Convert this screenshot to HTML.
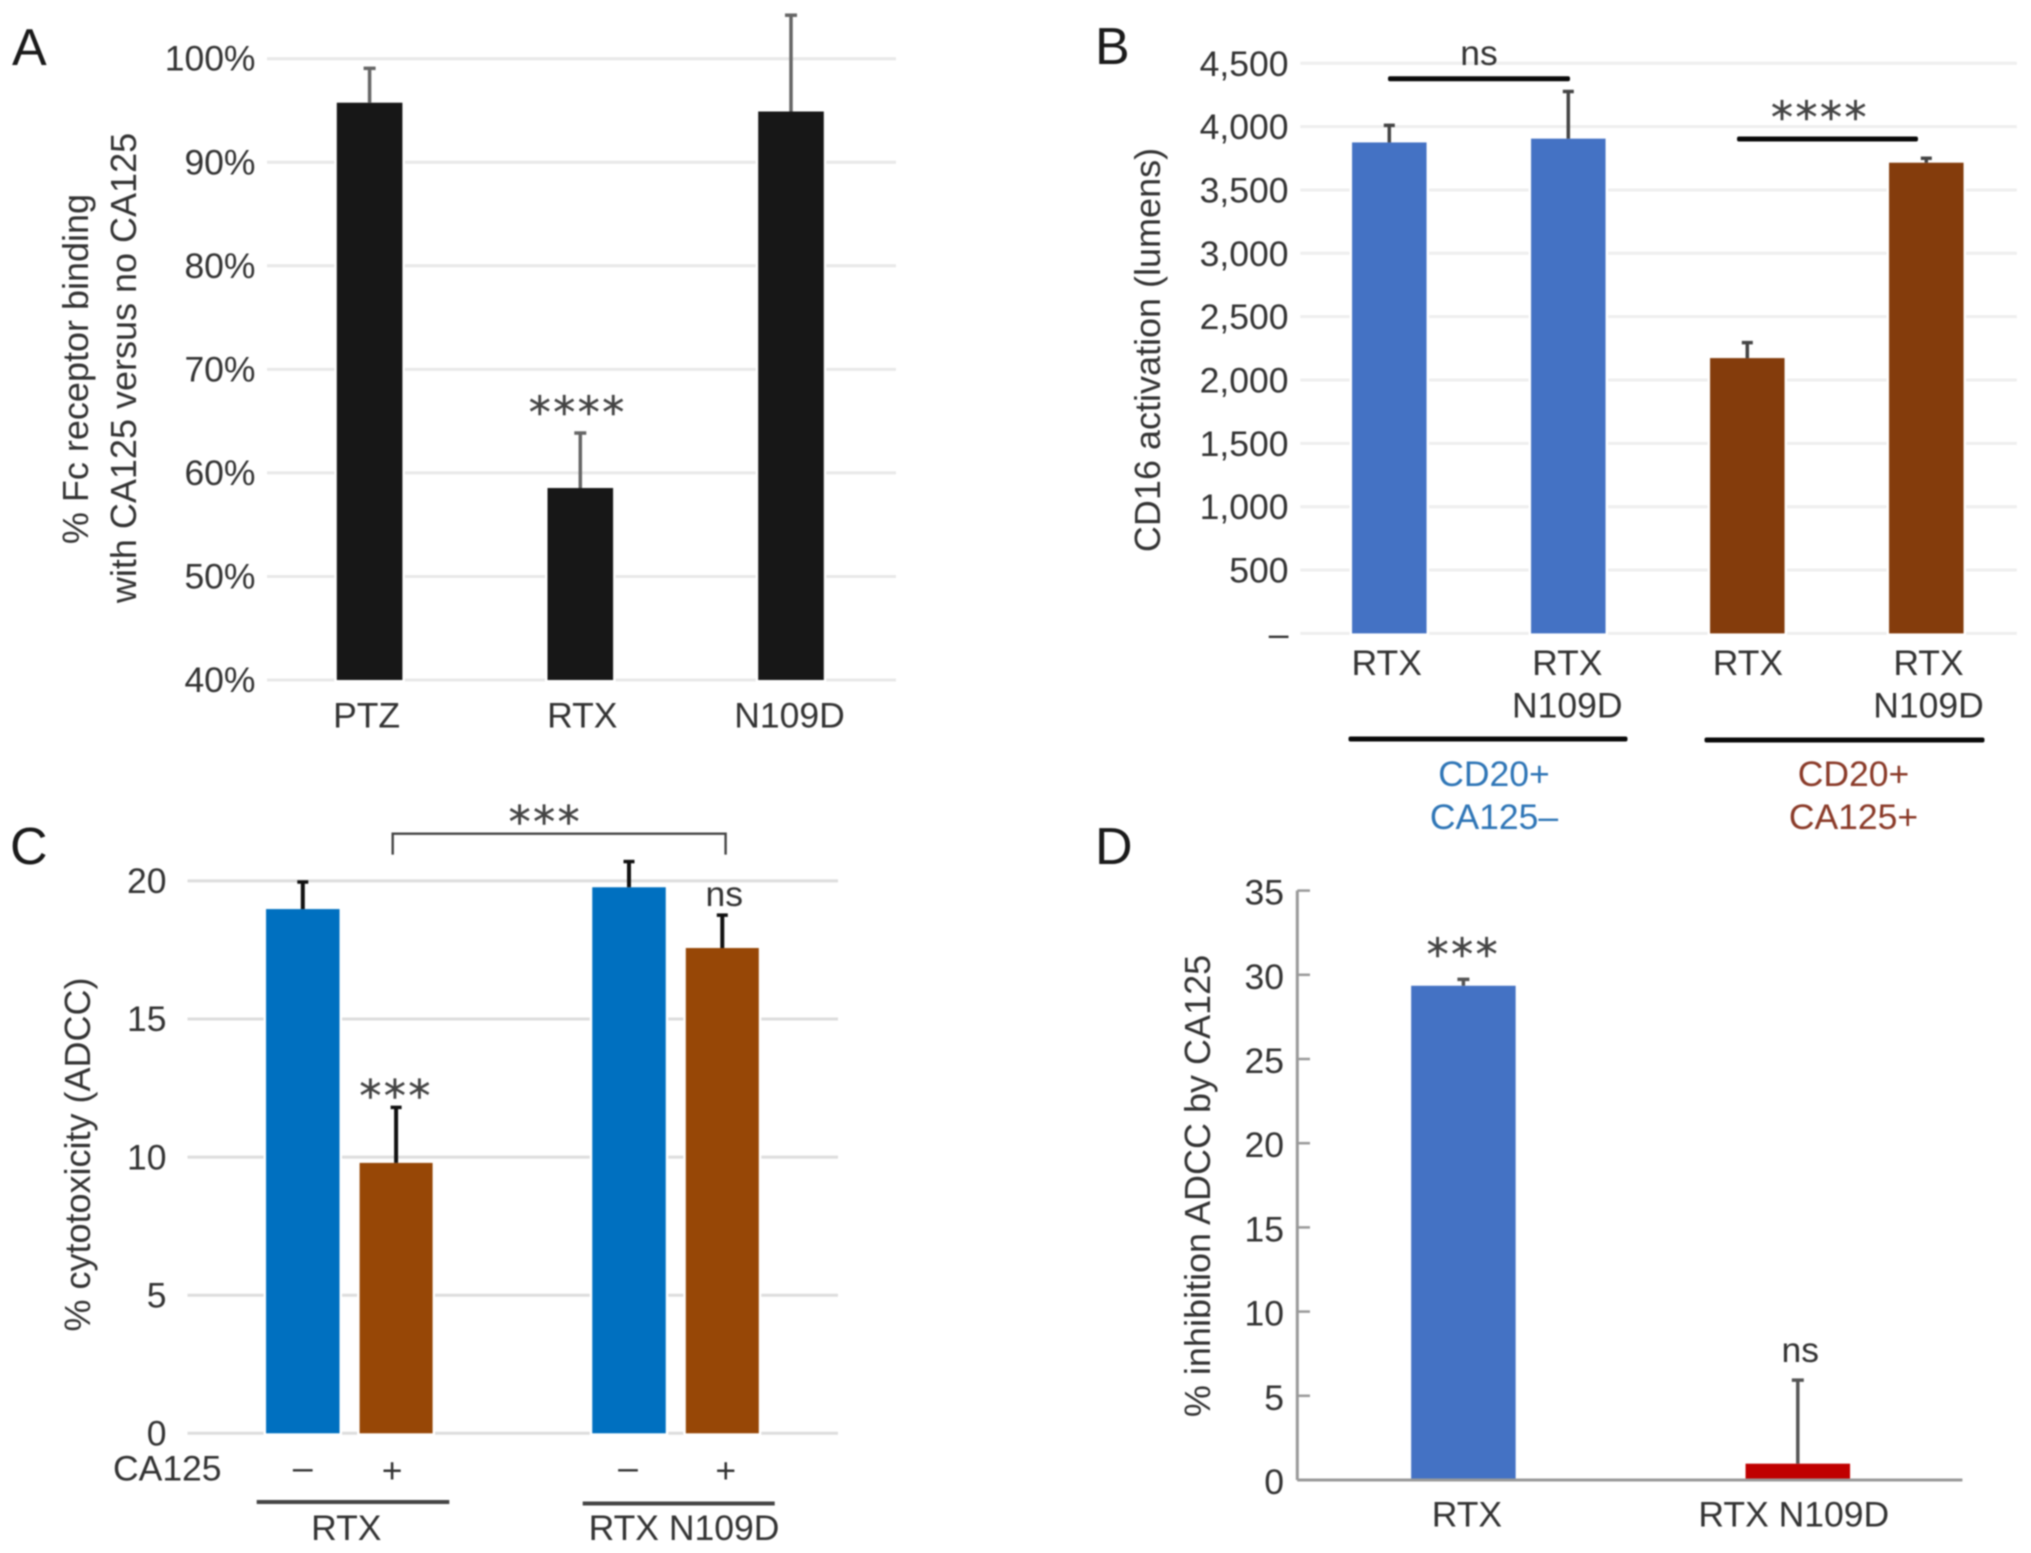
<!DOCTYPE html>
<html lang="en">
<head>
<meta charset="utf-8">
<title>Fc receptor binding and ADCC panels</title>
<style>
  html, body { margin: 0; padding: 0; background: #fff; }
  svg { display: block; filter: blur(0.7px); }
  text { font-family: "Liberation Sans", Arial, sans-serif; font-size: 35.5px; fill: #333; }
  .panel-letter { font-size: 52px; fill: #1a1a1a; }
  .axis-title { font-size: 36px; }
  .stars { font-family: "DejaVu Sans", sans-serif; font-size: 44px; letter-spacing: 2.5px; fill: #444; stroke: #444; stroke-width: 0.4px; text-anchor: middle; }
  .halo { paint-order: stroke; stroke: #fff; stroke-width: 5px; }
</style>
</head>
<body>
<svg id="figure" width="2031" height="1553" viewBox="0 0 2031 1553" xmlns="http://www.w3.org/2000/svg">
  <rect x="0" y="0" width="2031" height="1553" fill="#fff"/>

  <g id="panel-a">
    <text class="panel-letter" x="12" y="65">A</text>
    <text class="axis-title" text-anchor="middle" transform="translate(88 369) rotate(-90)">% Fc receptor binding</text>
    <text class="axis-title" text-anchor="middle" transform="translate(136 368) rotate(-90)">with CA125 versus no CA125</text>
  </g>

  <g id="panel-b">
    <text class="panel-letter" x="1095" y="64">B</text>
    <text class="axis-title" text-anchor="middle" transform="translate(1160 350) rotate(-90)">CD16 activation (lumens)</text>
    <rect x="1388" y="76.2" width="182" height="5" rx="2" fill="#0a0a0a"/>
    <text text-anchor="middle" x="1479" y="65">ns</text>
    <rect x="1737" y="136.5" width="181" height="5" rx="2" fill="#0a0a0a"/>
    <text class="stars" x="1820" y="132.5">****</text>
    <rect x="1348.5" y="736.5" width="279" height="5" rx="2" fill="#0a0a0a"/>
    <rect x="1704.5" y="737.5" width="280" height="5" rx="2" fill="#0a0a0a"/>
    <text text-anchor="middle" x="1494" y="786" style="fill:#2e75b6">CD20+</text>
    <text text-anchor="middle" x="1494" y="829" style="fill:#2e75b6">CA125–</text>
    <text text-anchor="middle" x="1853.5" y="786" style="fill:#8a3a28">CD20+</text>
    <text text-anchor="middle" x="1853.5" y="829" style="fill:#8a3a28">CA125+</text>
  </g>

  <g id="panel-c">
    <text class="panel-letter" x="10" y="864">C</text>
    <text class="axis-title" text-anchor="middle" transform="translate(90 1154.5) rotate(-90)">% cytotoxicity (ADCC)</text>
    <text x="113" y="1480.7">CA125</text>
    <path d="M392.7 854.6 V833.7 H725.6 V854.6" fill="none" stroke="#444" stroke-width="2.4"/>
    <text class="stars" x="545.4" y="837">***</text>
    <rect x="256.7" y="1500" width="192.6" height="4" fill="#444"/>
    <rect x="582.7" y="1501.5" width="192" height="4" fill="#444"/>
    <text text-anchor="middle" x="346.3" y="1540">RTX</text>
    <text text-anchor="middle" x="684" y="1540">RTX N109D</text>
  </g>

  <g id="panel-d">
    <text class="panel-letter" x="1095" y="864">D</text>
    <text class="axis-title" text-anchor="middle" transform="translate(1210 1186) rotate(-90)">% inhibition ADCC by CA125</text>
  </g>
</svg>

<script>
// Panel A data
const aCategories = ['PTZ', 'RTX', 'N109D'];
const aValues = [95.75, 58.54, 94.9];
const aErrors = [3.32, 5.31, 9.3];
const aTicks = [40, 50, 60, 70, 80, 90, 100];
const aTickLabels = ['40%', '50%', '60%', '70%', '80%', '90%', '100%'];

// Panel B data
const bCategories = ['RTX', 'RTX N109D', 'RTX', 'RTX N109D'];
const bValues = [3875, 3905, 2173, 3715];
const bErrors = [135, 372, 122, 35];
const bTicks = [0, 500, 1000, 1500, 2000, 2500, 3000, 3500, 4000, 4500];
const bTickLabels = ['–', '500', '1,000', '1,500', '2,000', '2,500', '3,000', '3,500', '4,000', '4,500'];

// Panel C data
const cGroups = ['RTX', 'RTX N109D'];
const cSigns = ['–', '+'];
const cMinusValues = [18.98, 19.77];
const cMinusErrors = [0.98, 0.93];
const cPlusValues = [9.79, 17.57];
const cPlusErrors = [2.01, 1.19];
const cTicks = [0, 5, 10, 15, 20];

// Panel D data
const dCategories = ['RTX', 'RTX N109D'];
const dValues = [29.35, 0.97];
const dErrors = [0.38, 4.96];
const dTicks = [0, 5, 10, 15, 20, 25, 30, 35];

const NS = 'http://www.w3.org/2000/svg';

function shape(parent, tag, name, props) {
  const el = document.createElementNS(NS, tag);
  
  
  for (const k in props) el.setAttribute(k, props[k]);
  parent.appendChild(el);
  return el;
}

function label(parent, name, str, x, y, anchor, cls) {
  const el = shape(parent, 'text', name, { x: x, y: y, 'text-anchor': anchor });
  if (cls) el.setAttribute('class', cls);
  el.textContent = str;
  return el;
}

function hGrid(parent, ticks, y, x0, x1, color, width, slug) {
  ticks.forEach(function (t) {
    const el = shape(parent, 'line', 'gridline-' + slug + '-' + t, { x1: x0, x2: x1, y1: y(t), y2: y(t), stroke: color, 'stroke-width': width });
    parent.insertBefore(el, parent.firstChild);
  });
}

function yLabels(parent, ticks, texts, y, xRight, dy, slug) {
  ticks.forEach(function (t, i) {
    label(parent, 'y-tick-label-' + slug + '-' + t, texts[i], xRight, y(t) + dy, 'end');
  });
}

function bar(parent, name, cx, w, y, base, value, color) {
  const el = shape(parent, 'rect', name, { x: cx - w / 2, y: y(value), width: w, height: y(base) - y(value), fill: color });
  el.setAttribute('class', 'halo');
  return el;
}

function errBar(parent, name, cx, y, value, err, color, width, capW) {
  const top = y(value + err);
  shape(parent, 'line', name, { x1: cx, x2: cx, y1: y(value), y2: top, stroke: color, 'stroke-width': width });
  shape(parent, 'line', name + '-cap', { x1: cx - capW / 2, x2: cx + capW / 2, y1: top, y2: top, stroke: color, 'stroke-width': 3.5 });
}

/* ---------- Panel A ---------- */
(function () {
  const g = document.getElementById('panel-a');
  const y = function (v) { return 680 - (v - 40) * 10.355; };
  const x = function (i) { return 369.6 + i * 210.7; };
  const labelOffset = [-3, 2, -1.5];
  hGrid(g, aTicks, y, 267, 896, '#e8e8e8', 3, 'a');
  yLabels(g, aTicks, aTickLabels, y, 255.5, 12, 'a');
  aCategories.forEach(function (c, i) {
    const slug = c.toLowerCase();
    bar(g, 'bar-' + slug, x(i), 65.6, y, 40, aValues[i], '#171717');
    errBar(g, 'error-bar-' + slug, x(i), y, aValues[i], aErrors[i], '#666', 3.5, 12);
    label(g, 'x-label-' + slug, c, x(i) + labelOffset[i], 727.5, 'middle');
  });
  label(g, 'significance-stars-rtx', '****', x(1) - 2.5, y(aValues[1] + aErrors[1]) - 5.5, 'middle', 'stars');
})();

/* ---------- Panel B ---------- */
(function () {
  const g = document.getElementById('panel-b');
  const y = function (v) { return 633.4 - v * 0.1267; };
  const x = function (i) { return 1389.3 + i * 179; };
  const lx = function (i) { return 1386.7 + i * 180.6; };
  const colors = ['#4472c4', '#4472c4', '#843c0c', '#843c0c'];
  hGrid(g, bTicks, y, 1300.3, 2016.8, '#eeeeee', 3, 'b');
  yLabels(g, bTicks, bTickLabels, y, 1288.5, 12.5, 'b');
  bCategories.forEach(function (c, i) {
    const parts = c.split(' ');
    bar(g, 'bar-b-' + i, x(i), 74.5, y, 0, bValues[i], colors[i]);
    errBar(g, 'error-bar-b-' + i, x(i), y, bValues[i], bErrors[i], '#444', 3.5, 11);
    parts.forEach(function (p, j) {
      label(g, 'x-label-b-' + i + '-' + j, p, lx(i), 675 + j * 42.4, 'middle');
    });
  });
})();

/* ---------- Panel C ---------- */
(function () {
  const g = document.getElementById('panel-c');
  const y = function (v) { return 1433.3 - v * 27.62; };
  const x = function (grp, s) { return 302.8 + grp * 326.2 + s * 93.3; };
  const plusOffset = [-4, 3.5];
  hGrid(g, cTicks, y, 187.5, 838, '#dddddd', 3, 'c');
  yLabels(g, cTicks, cTicks.map(String), y, 166.5, 12.2, 'c');
  cGroups.forEach(function (grpName, i) {
    bar(g, 'bar-minus-' + i, x(i, 0), 73.5, y, 0, cMinusValues[i], '#0070c0');
    bar(g, 'bar-plus-' + i, x(i, 1), 73, y, 0, cPlusValues[i], '#974706');
    errBar(g, 'error-bar-minus-' + i, x(i, 0), y, cMinusValues[i], cMinusErrors[i], '#111', 4, 11);
    errBar(g, 'error-bar-plus-' + i, x(i, 1), y, cPlusValues[i], cPlusErrors[i], '#111', 4, 11);
    label(g, 'ca125-sign-minus-' + i, cSigns[0], x(i, 0) - i, 1479.6, 'middle');
    label(g, 'ca125-sign-plus-' + i, cSigns[1], x(i, 1) + plusOffset[i], 1482.5, 'middle');
  });
  label(g, 'significance-stars-rtx-plus', '***', x(0, 1), y(cPlusValues[0] + cPlusErrors[0]) + 3.4, 'middle', 'stars');
  label(g, 'ns-label-n109d-plus', 'ns', x(1, 1) + 2, y(cPlusValues[1] + cPlusErrors[1]) - 9, 'middle');
})();

/* ---------- Panel D ---------- */
(function () {
  const g = document.getElementById('panel-d');
  const y = function (v) { return 1480 - v * 16.84; };
  const x = function (i) { return 1463.4 + i * 334.4; };
  const colors = ['#4472c4', '#c00000'];
  dCategories.forEach(function (c, i) {
    bar(g, 'bar-d-' + i, x(i), 104.5, y, 0, dValues[i], colors[i]);
    errBar(g, 'error-bar-d-' + i, x(i), y, dValues[i], dErrors[i], '#555', 3.5, 12);
  });
  shape(g, 'line', 'y-axis', { x1: 1297.3, x2: 1297.3, y1: y(35), y2: y(0), stroke: '#999', 'stroke-width': 3 });
  shape(g, 'line', 'x-axis', { x1: 1297.3, x2: 1962.4, y1: y(0), y2: y(0), stroke: '#999', 'stroke-width': 3 });
  dTicks.forEach(function (t) {
    shape(g, 'line', 'y-tick-' + t, { x1: 1297.3, x2: 1310, y1: y(t), y2: y(t), stroke: '#999', 'stroke-width': 2.5 });
  });
  yLabels(g, dTicks, dTicks.map(String), y, 1284, 14, 'd');
  label(g, 'x-label-d-rtx', dCategories[0], x(0) + 3.5, 1526.7, 'middle');
  label(g, 'x-label-d-rtx-n109d', dCategories[1], x(1) - 4, 1526.7, 'middle');
  label(g, 'significance-stars-d', '***', x(0), y(dValues[0] + dErrors[0]) - 9.6, 'middle', 'stars');
  label(g, 'ns-label-d', 'ns', x(1) + 2.5, y(dValues[1] + dErrors[1]) - 18, 'middle');
})();
</script>
</body>
</html>
